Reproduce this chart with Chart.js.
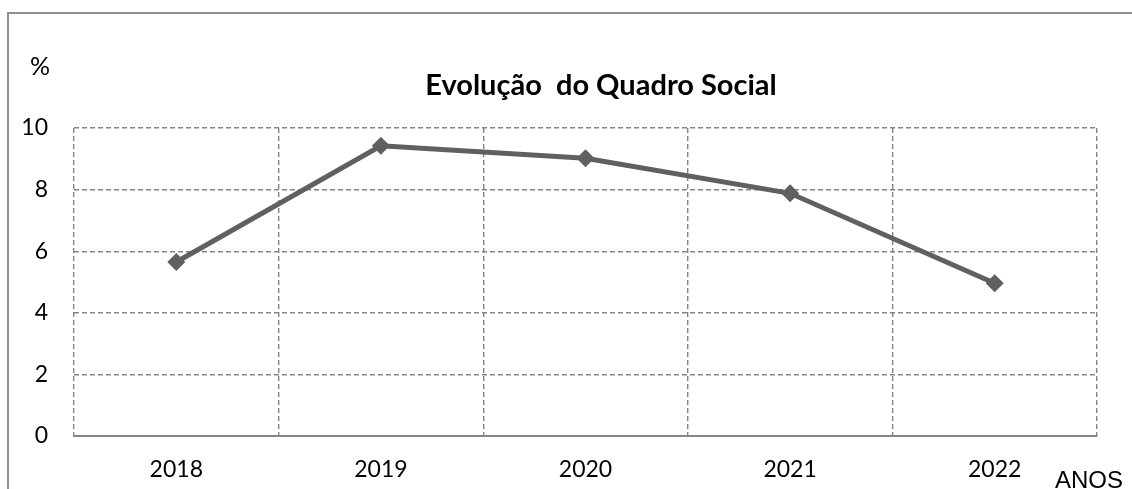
<!DOCTYPE html>
<html lang="pt-BR">
<head>
  <meta charset="UTF-8" />
  <title>Evolução do Quadro Social</title>
  <style>
    html, body { margin: 0; padding: 0; background: #fff; overflow: hidden; }
    #wrap { position: relative; width: 1132px; height: 489px; }
    #frame { position: absolute; left: 7px; top: 12px; width: 2000px; height: 2000px;
             border-left: 2px solid #8e8e8e; border-top: 2px solid #8e8e8e; }
    #chart { position: absolute; left: 0; top: 0; }
  </style>
</head>
<body>
  <div id="wrap">
    <div id="frame"></div>
    <canvas id="chart" width="1132" height="489"></canvas>
  </div>

  <script src="https://cdn.jsdelivr.net/npm/chart.js"></script>
  <script>
    // Dados
    const anos = ['2018', '2019', '2020', '2021', '2022'];
    const percentuais = [5.65, 9.42, 9.02, 7.88, 4.96];
    const tituloGrafico = 'Evolução  do Quadro Social';
    const rotuloY = '%';
    const rotuloX = 'ANOS';

    const corLinha = '#606060';
    const corGrade = '#858585';

    // Textos extras (título, % e ANOS)
    const textosPlugin = {
      id: 'textos',
      afterDraw(chart) {
        const c = chart.ctx;
        c.save();
        c.fillStyle = '#000';
        c.textBaseline = 'alphabetic';
        c.font = 'bold 29px Lato';
        c.textAlign = 'center';
        c.fillText(tituloGrafico, 601, 95);
        c.font = '25px Lato';
        c.textAlign = 'left';
        c.fillText(rotuloY, 30, 75);
        c.font = '24px "Liberation Sans"';
        c.fillText(rotuloX, 1055, 488);
        c.restore();
      }
    };

    const ctx = document.getElementById('chart').getContext('2d');
    new Chart(ctx, {
      type: 'line',
      data: {
        labels: anos,
        datasets: [{
          data: percentuais,
          borderColor: corLinha,
          backgroundColor: corLinha,
          borderWidth: 5,
          tension: 0,
          pointStyle: 'rectRot',
          pointRadius: 9,
          pointBackgroundColor: corLinha,
          pointBorderColor: corLinha,
          pointBorderWidth: 0
        }]
      },
      options: {
        responsive: false,
        animation: false,
        layout: { padding: { top: 128, right: 35, left: 0, bottom: 0 } },
        plugins: { legend: { display: false }, tooltip: { enabled: false } },
        scales: {
          x: {
            offset: true,
            grid: { offset: true, color: corGrade, lineWidth: 1.4, drawTicks: false },
            border: { display: true, color: corGrade, width: 2, dash: [5, 3] },
            ticks: { color: '#000', font: { family: 'Lato', size: 23 }, padding: 20, maxRotation: 0 },
            afterFit(s) { s.height = 53; }
          },
          y: {
            min: 0, max: 10,
            grid: { color: corGrade, lineWidth: 1.4, drawTicks: false },
            border: { display: false, dash: [5, 3] },
            ticks: { stepSize: 2, color: '#000', font: { family: 'Lato', size: 23 }, padding: 26 },
            afterFit(s) { s.width = 74; }
          }
        }
      },
      plugins: [textosPlugin]
    });
  </script>
</body>
</html>
